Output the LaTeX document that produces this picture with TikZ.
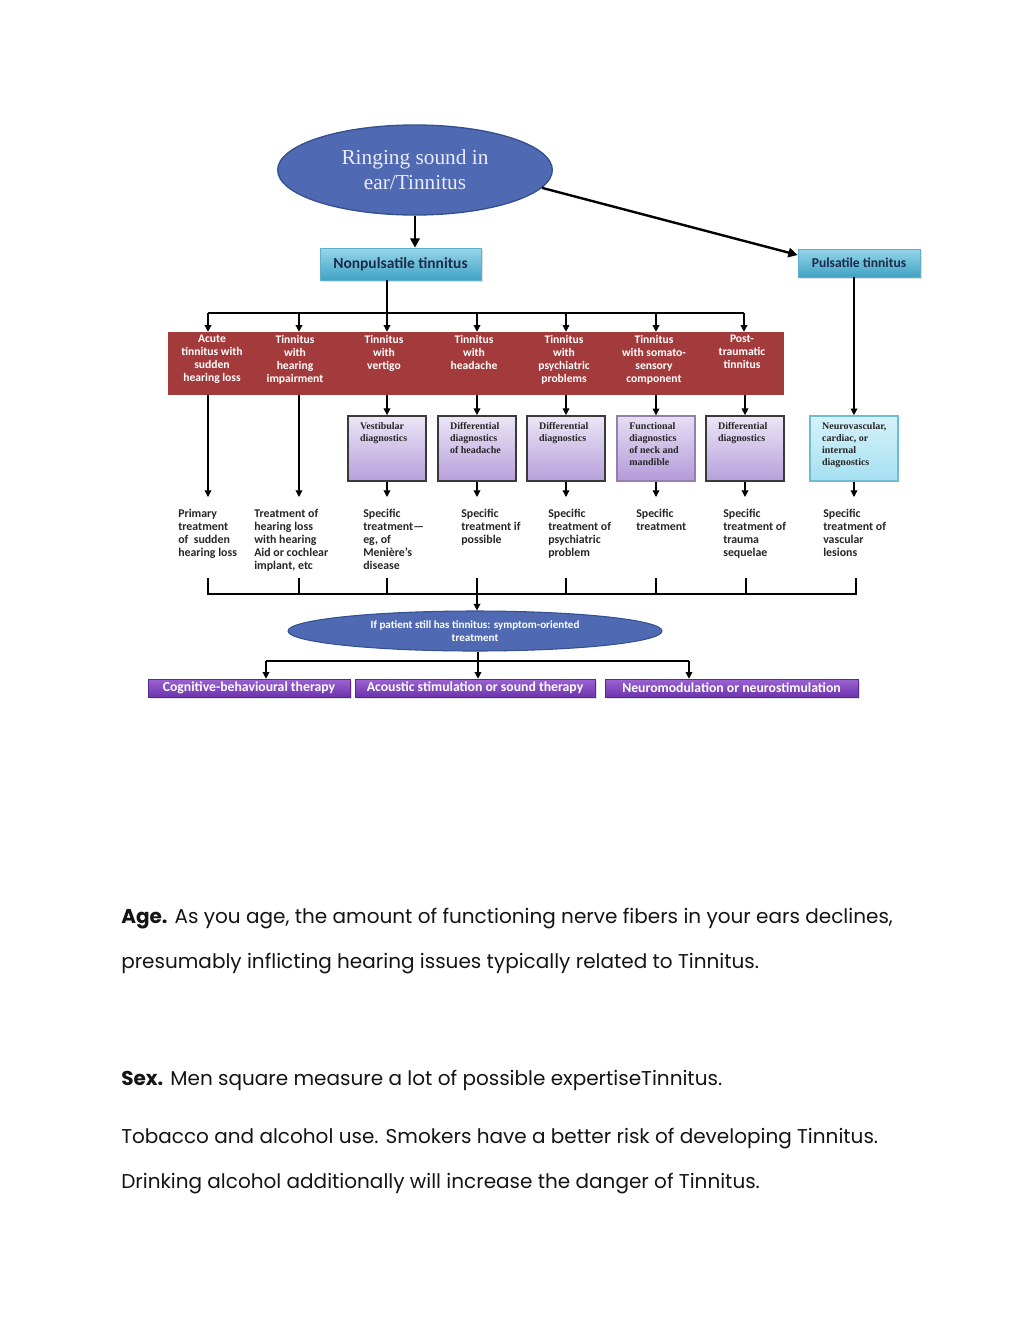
\documentclass[tikz,border=0pt]{standalone}
\usepackage{fontspec}
\setmainfont{Poppins}
\newfontfamily\serifF{Liberation Serif}
\newfontfamily\calF{Carlito}
\usetikzlibrary{arrows.meta,shapes.geometric,shadows}
\definecolor{ringblue}{HTML}{4F6AB2}
\definecolor{ringedge}{HTML}{34508F}
\definecolor{cyantop}{HTML}{96D6EA}
\definecolor{cyanbot}{HTML}{3FA3C4}
\definecolor{cyanedge}{HTML}{5FAFC8}
\definecolor{navytext}{HTML}{1C2B4A}
\definecolor{boxred}{HTML}{A33B3C}
\definecolor{lavtop}{HTML}{ECE5F6}
\definecolor{lavbot}{HTML}{B7A0DB}
\definecolor{diagedge}{HTML}{3A3A3A}
\definecolor{iceTop}{HTML}{D6F2FA}
\definecolor{iceBot}{HTML}{A6E0F1}
\definecolor{iceEdge}{HTML}{6DBCD2}
\definecolor{violetTop}{HTML}{9A63D2}
\definecolor{violetBot}{HTML}{6E33AC}
\definecolor{bodytext}{HTML}{141414}
\tikzset{
 arr/.style={-{Triangle[length=7pt,width=7pt]}, line width=1.8pt, black},
 thinarr/.style={-{Triangle[length=5pt,width=5pt]}, line width=0.9pt, black},
 bus/.style={line width=0.9pt, black},
 softshadow/.style={drop shadow={opacity=0.25, shadow xshift=1.2pt, shadow yshift=-1.2pt}},
 cyanbox/.style={rectangle, top color=cyantop, bottom color=cyanbot, draw=cyanedge, line width=0.5pt, inner sep=0pt, text=navytext, softshadow},
 redlbl/.style={anchor=north, align=center, inner sep=0pt, text=white, font=\calF\bfseries\fontsize{8.7}{9.75}\selectfont},
 diagbox/.style={rectangle, top color=lavtop, bottom color=lavbot, draw=diagedge, line width=1.3pt, minimum width=58.5pt, minimum height=48.75pt, inner sep=0pt},
 diagtxt/.style={anchor=north west, align=left, inner sep=0pt, text=black!85, font=\serifF\bfseries\fontsize{7.5}{9}\selectfont},
 treat/.style={anchor=north west, align=left, inner sep=0pt, text=black!85, font=\calF\bfseries\fontsize{8.9}{9.75}\selectfont},
 therapy/.style={rectangle, top color=violetTop, bottom color=violetBot, draw=violetBot!80!black, line width=0.4pt, minimum height=13.5pt, inner sep=0pt, text=white, font=\calF\bfseries\fontsize{10.3}{11}\selectfont, softshadow},
 para/.style={anchor=base west, inner sep=0pt, text=bodytext, font=\fontsize{15}{18}\selectfont},
}
\begin{document}
\begin{tikzpicture}[x=0.75pt,y=-0.75pt]
\useasboundingbox (0,0) rectangle (1024,1325);
\fill[white] (0,0) rectangle (1024,1325);

% top ellipse
\node[ellipse, minimum width=206pt, minimum height=67.5pt, fill=ringblue, draw=ringedge, line width=1pt,
      align=center, text=white!92!blue, font=\serifF\fontsize{16}{18.75}\selectfont] (ring) at (415,170) {Ringing sound in\\ear/Tinnitus};

% level boxes
\node[cyanbox, minimum width=120.75pt, minimum height=24pt, font=\calF\bfseries\fontsize{11.6}{13}\selectfont] (nonp) at (400.5,264) {Nonpulsatile tinnitus};
\node[cyanbox, minimum width=91.5pt, minimum height=21pt, font=\calF\bfseries\fontsize{10.2}{12}\selectfont] (puls) at (859,263) {Pulsatile tinnitus};

\draw[arr] (ring.south) -- (ring.south |- nonp.north);
\draw[arr] (ring.-8) -- ([yshift=6pt]puls.west);

% column coordinates
\coordinate (x1) at (208,0);
\coordinate (x2) at (299,0);
\coordinate (x3) at (387,0);
\coordinate (x4) at (477,0);
\coordinate (x5) at (566,0);
\coordinate (x6) at (656,0);
\coordinate (x7) at (744,0);
\coordinate (x8) at (854,0);
\coordinate (busA) at (0,313);
\coordinate (tt) at (0,497);

% red box
\node[rectangle, fill=boxred, minimum width=462pt, minimum height=47.25pt, inner sep=0pt] (red) at (476,363.5) {};
\node[redlbl] (r1) at (212,335) {Acute\\tinnitus with\\sudden\\hearing loss};
\node[redlbl] (r2) at (295,335) {Tinnitus\\with\\hearing\\impairment};
\node[redlbl] (r3) at (384,335) {Tinnitus\\with\\vertigo};
\node[redlbl] (r4) at (474,335) {Tinnitus\\with\\headache};
\node[redlbl] (r5) at (564,335) {Tinnitus\\with\\psychiatric\\problems};
\node[redlbl] (r6) at (654,335) {Tinnitus\\with somato-\\sensory\\component};
\node[redlbl] (r7) at (742,335) {Post-\\traumatic\\tinnitus};

% branch from nonpulsatile
\draw[bus] (x3 |- nonp.south) -- (x3 |- busA);
\draw[bus] (x1 |- busA) -- (x7 |- busA);
\foreach \c in {x1,x2,x3,x4,x5,x6,x7}{
  \draw[thinarr] (\c |- busA) -- (\c |- red.north);
}

% diagnostics boxes
\node[diagbox] (vest) at (387,448.5) {};
\node[diagbox] (dhead) at (477,448.5) {};
\node[diagbox] (dpsy) at (566,448.5) {};
\node[diagbox, draw=lavbot!80!black, line width=1pt, top color=lavtop!90!lavbot, bottom color=lavbot!90!violetTop] (func) at (656,448.5) {};
\node[diagbox] (dtra) at (745,448.5) {};
\node[diagbox, minimum width=66pt, top color=iceTop, bottom color=iceBot, draw=iceEdge, line width=1.2pt] (neuro) at (854,448.5) {};

\node[diagtxt] (t3) at ([xshift=9.5pt,yshift=-5pt]vest.north west) {Vestibular\\diagnostics};
\node[diagtxt] (t4) at ([xshift=9.5pt,yshift=-5pt]dhead.north west) {Differential\\diagnostics\\of headache};
\node[diagtxt] (t5) at ([xshift=9.5pt,yshift=-5pt]dpsy.north west) {Differential\\diagnostics};
\node[diagtxt] (t6) at ([xshift=9.5pt,yshift=-5pt]func.north west) {Functional\\diagnostics\\of neck and\\mandible};
\node[diagtxt] (t7) at ([xshift=9.5pt,yshift=-5pt]dtra.north west) {Differential\\diagnostics};
\node[diagtxt] (t8) at ([xshift=9.5pt,yshift=-5pt]neuro.north west) {Neurovascular,\\cardiac, or\\internal\\diagnostics};

\draw[thinarr] (x1 |- red.south) -- (x1 |- tt);
\draw[thinarr] (x2 |- red.south) -- (x2 |- tt);
\foreach \b in {vest,dhead,dpsy,func,dtra}{
  \draw[thinarr] (\b.north |- red.south) -- (\b.north);
  \draw[thinarr] (\b.south) -- (\b.south |- tt);
}
\draw[thinarr] (neuro.north |- puls.south) -- (neuro.north);
\draw[thinarr] (neuro.south) -- (neuro.south |- tt);

% treatments
\node[treat] (s1) at (178,509) {Primary\\treatment\\of \ sudden\\hearing loss};
\node[treat] (s2) at (254,509) {Treatment of\\hearing loss\\with hearing\\Aid or cochlear\\implant, etc};
\node[treat] (s3) at (363,509) {Specific\\treatment—\\eg, of\\Menière’s\\disease};
\node[treat] (s4) at (461,509) {Specific\\treatment if\\possible};
\node[treat] (s5) at (548,509) {Specific\\treatment of\\psychiatric\\problem};
\node[treat] (s6) at (636,509) {Specific\\treatment};
\node[treat] (s7) at (723,509) {Specific\\treatment of\\trauma\\sequelae};
\node[treat] (s8) at (823,509) {Specific\\treatment of\\vascular\\lesions};

% bracket
\coordinate (brk) at (477,594);
\draw[bus] (208,578) -- (208,594) -- (856,594) -- (856,578);
\foreach \xx in {299,387,477,566,656,746}{
  \draw[bus] (\xx,578) -- (\xx,594);
}

% symptom ellipse
\node[ellipse, minimum width=280.5pt, minimum height=30pt, fill=ringblue, draw=ringedge, line width=0.8pt, inner sep=0pt,
      align=center, text=white, font=\calF\bfseries\fontsize{8.3}{9.75}\selectfont] (sym) at (475,631)
      {If patient still has tinnitus: symptom-oriented\\treatment};
\draw[thinarr] (brk) -- (brk |- sym.north);

% therapies
\node[therapy, minimum width=151.5pt] (cbt) at (249,688) {Cognitive-behavioural therapy};
\node[therapy, minimum width=180pt] (ast) at (475,688) {Acoustic stimulation or sound therapy};
\node[therapy, minimum width=189.75pt] (nmd) at (731.5,688) {Neuromodulation or neurostimulation};
\coordinate (busB) at (0,661);
\coordinate (xb1) at (266,0);
\coordinate (xb2) at (478,0);
\coordinate (xb3) at (689,0);
\draw[bus] (xb2 |- sym.south) -- (xb2 |- busB);
\draw[bus] (xb1 |- busB) -- (xb3 |- busB);
\draw[thinarr] (xb1 |- busB) -- (xb1 |- cbt.north);
\draw[thinarr] (xb2 |- busB) -- (xb2 |- ast.north);
\draw[thinarr] (xb3 |- busB) -- (xb3 |- nmd.north);

% paragraphs
\node[para] (p1) at (121,923) {\textbf{Age.} As you age, the amount of functioning nerve fibers in your ears declines,};
\node[para] (p2) at (121,968) {presumably inflicting hearing issues typically related to Tinnitus.};
\node[para] (p3) at (121,1085) {\textbf{Sex.} Men square measure a lot of possible expertiseTinnitus.};
\node[para] (p4) at (121,1143) {Tobacco and alcohol use. Smokers have a better risk of developing Tinnitus.};
\node[para] (p5) at (121,1188) {Drinking alcohol additionally will increase the danger of Tinnitus.};
\end{tikzpicture}
\end{document}
